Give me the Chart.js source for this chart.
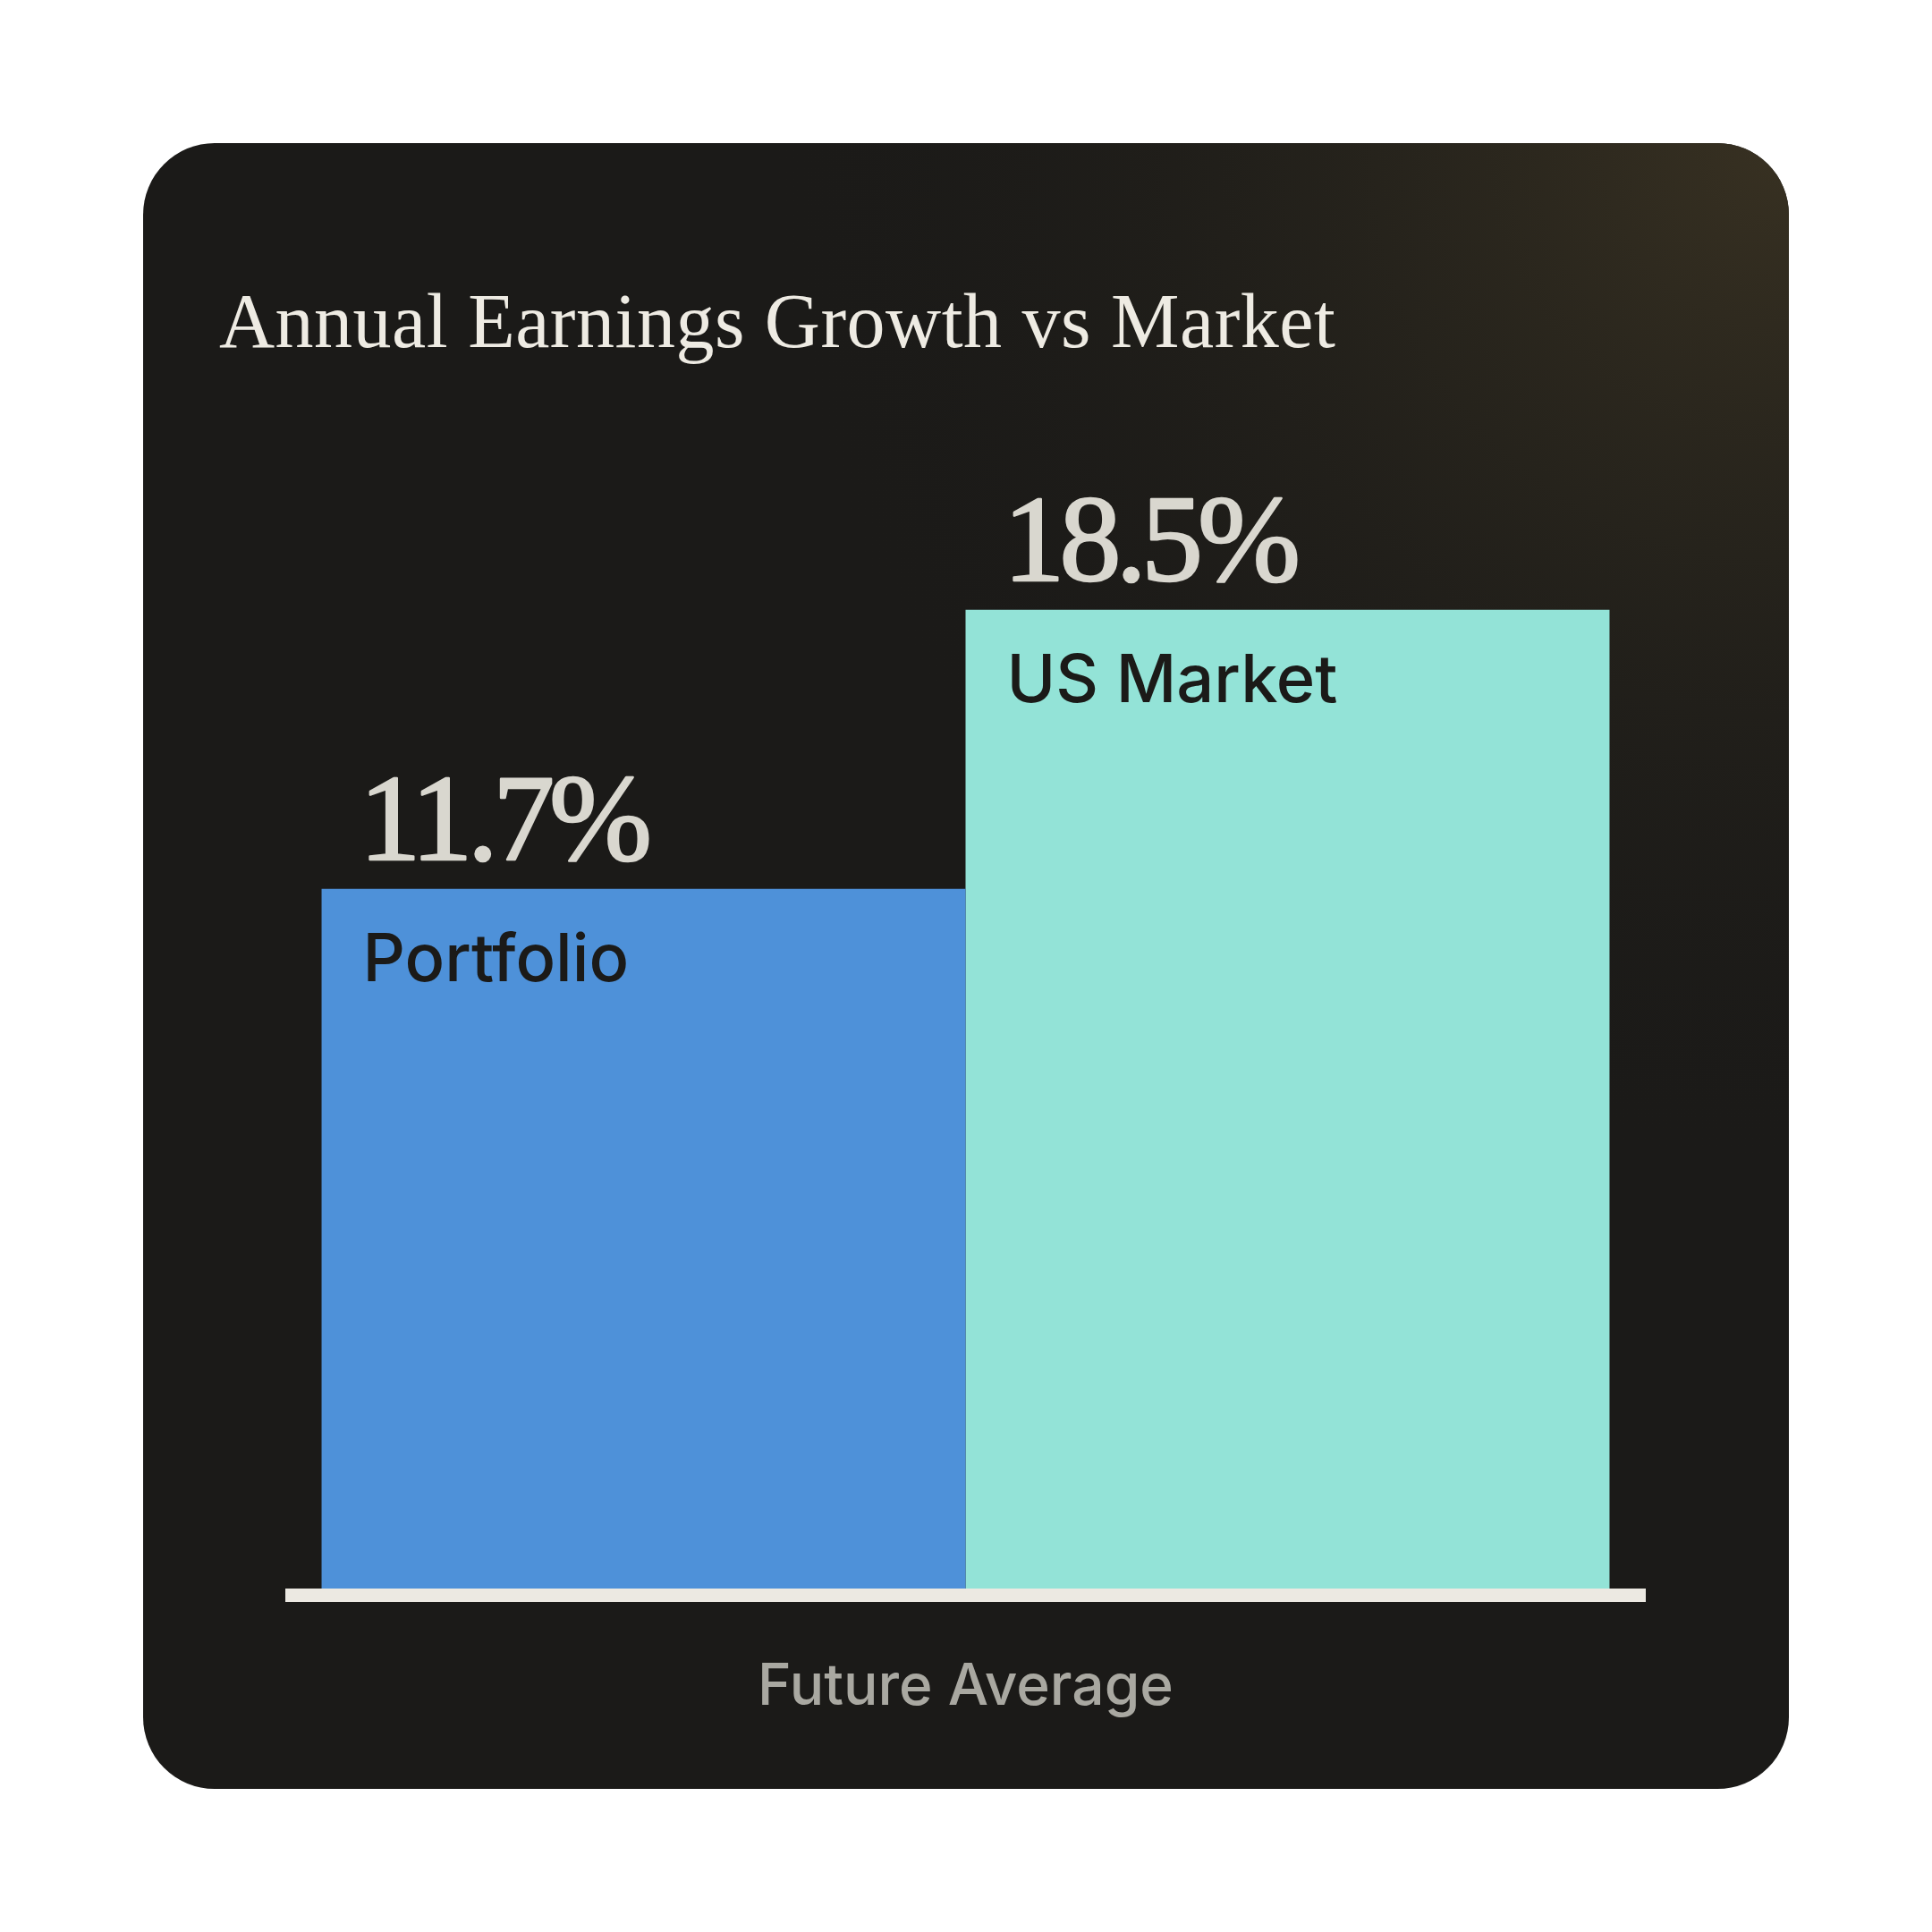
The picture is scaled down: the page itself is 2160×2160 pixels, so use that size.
<!DOCTYPE html>
<html>
<head>
<meta charset="utf-8">
<script src="https://cdn.jsdelivr.net/npm/chart.js@4/dist/chart.umd.min.js"></script>
<style>
    html, body { margin: 0; padding: 0; background: #ffffff; }
    #wrap { width: 2160px; height: 2160px; }
</style>
</head>
<body>
<div id="wrap"><canvas id="growth-chart" width="2160" height="2160"></canvas></div>
<script>
// data
const categories = ['Future Average'];
const seriesNames = ['Portfolio', 'US Market'];
const portfolioValues = [11.7];
const marketValues = [18.5];
const axisMin = -5.35;
const axisMax = 20;
const titleText = 'Annual Earnings Growth vs Market';

const colors = {
    card: '#1b1a18',
    portfolio: '#4e91d9',
    market: '#93e3d7',
    title: '#eeebe3',
    value: '#d9d7cf',
    barText: '#1b1a18',
    axisText: '#a9a8a1',
    baseline: '#ece9e2'
};

const serif = '"Liberation Serif", "DejaVu Serif", serif';
const sans = 'Inter, "Noto Sans", sans-serif';

// card background + title
const cardPlugin = {
    id: 'card',
    beforeDraw(chart) {
        const ctx = chart.ctx;
        ctx.save();
        ctx.fillStyle = '#ffffff';
        ctx.fillRect(0, 0, chart.width, chart.height);

        ctx.beginPath();
        ctx.roundRect(160, 160, 1840, 1840, 80);
        ctx.fillStyle = colors.card;
        ctx.fill();
        const glow = ctx.createRadialGradient(2000, 160, 0, 2000, 160, 1150);
        glow.addColorStop(0, 'rgba(56, 49, 34, 1)');
        glow.addColorStop(0.4, 'rgba(44, 40, 30, 0.65)');
        glow.addColorStop(1, 'rgba(27, 26, 24, 0)');
        ctx.fillStyle = glow;
        ctx.fill();

        ctx.fillStyle = colors.title;
        ctx.font = '86px ' + serif;
        ctx.textBaseline = 'alphabetic';
        ctx.textAlign = 'left';
        ctx.letterSpacing = '0.5px';
        ctx.fillText(titleText, 245, 388);
        ctx.restore();
    }
};

// baseline + bar labels
const labelPlugin = {
    id: 'barLabels',
    afterDatasetsDraw(chart) {
        const ctx = chart.ctx;
        const area = chart.chartArea;
        const yBase = chart.scales.y.getPixelForValue(chart.scales.y.min);
        ctx.save();
        ctx.fillStyle = colors.baseline;
        ctx.fillRect(area.left, yBase, area.right - area.left, 15);

        chart.data.datasets.forEach((ds, i) => {
            const meta = chart.getDatasetMeta(i);
            meta.data.forEach((bar, j) => {
                const left = bar.x - bar.width / 2;
                ctx.textAlign = 'left';
                ctx.textBaseline = 'alphabetic';

                const valueText = ds.data[j].toFixed(1) + '%';
                ctx.fillStyle = colors.value;
                ctx.strokeStyle = colors.value;
                ctx.lineWidth = 2.5;
                ctx.lineJoin = 'round';
                ctx.font = '138px ' + serif;
                ctx.letterSpacing = '-6px';
                ctx.fillText(valueText, left + 42, bar.y - 33);
                ctx.strokeText(valueText, left + 42, bar.y - 33);

                ctx.fillStyle = colors.barText;
                ctx.font = '500 74px ' + sans;
                ctx.letterSpacing = '0px';
                ctx.fillText(ds.label, left + 46, bar.y + 103);
            });
        });
        ctx.restore();
    }
};

const ctx = document.getElementById('growth-chart').getContext('2d');

new Chart(ctx, {
    type: 'bar',
    data: {
        labels: categories,
        datasets: [
            {
                label: seriesNames[0],
                data: portfolioValues,
                backgroundColor: colors.portfolio,
                borderWidth: 0
            },
            {
                label: seriesNames[1],
                data: marketValues,
                backgroundColor: colors.market,
                borderWidth: 0
            }
        ]
    },
    options: {
        responsive: false,
        animation: false,
        devicePixelRatio: 1,
        layout: {
            padding: { top: 613, left: 319, right: 320, bottom: 0 }
        },
        plugins: {
            legend: { display: false },
            title: { display: false },
            tooltip: { enabled: false }
        },
        datasets: {
            bar: {
                barPercentage: 1,
                categoryPercentage: 0.9467,
                base: axisMin
            }
        },
        scales: {
            x: {
                grid: { display: false, drawTicks: false },
                border: { display: false },
                ticks: {
                    color: colors.axisText,
                    padding: 72,
                    font: { family: sans, size: 64, weight: '500' }
                },
                afterFit(scale) {
                    scale.height = 384;
                }
            },
            y: {
                display: false,
                min: axisMin,
                max: axisMax
            }
        }
    },
    plugins: [cardPlugin, labelPlugin]
});
</script>
</body>
</html>
